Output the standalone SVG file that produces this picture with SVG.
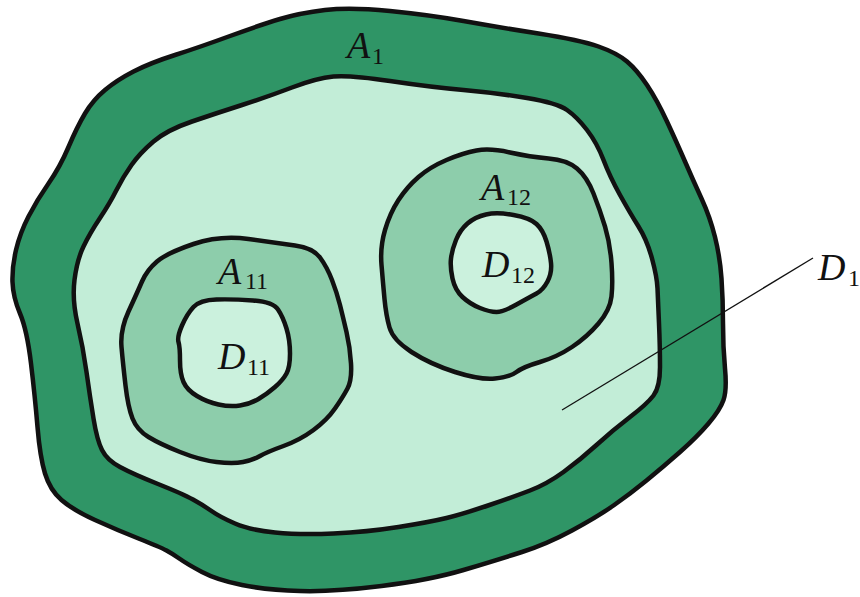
<svg xmlns="http://www.w3.org/2000/svg" width="860" height="597" viewBox="0 0 860 597">
<style>
.b{stroke:#111;stroke-width:4.5;stroke-linejoin:round}
.outer{fill:#2f9566}
.mid{fill:#c2edd7}
.ann{fill:#8dcdab}
.inn{fill:#cbf1dd}
.lbl{font-family:'Liberation Serif','Times New Roman',serif;font-style:italic;font-size:38px;fill:#111}
.sub{font-family:'Liberation Serif','Times New Roman',serif;font-style:normal;font-size:24px;fill:#111}
</style>
<rect width="860" height="597" fill="#ffffff"/>
<g id="A1">
<path class="b outer" d="M 325,10 Q 350,7 390,11 Q 430,15 463.5,21 Q 497,27 538.5,33.5 Q 580,40 598.5,46.5 Q 617,53 627,61.5 Q 637,70 647,85 Q 657,100 667,121.5 Q 677,143 685,161.5 Q 693,180 701.5,198.5 Q 710,217 715,237 Q 720,257 721.5,278.5 Q 723,300 723,323.5 Q 723,347 725,368.5 Q 727,390 723.5,400 Q 720,410 708.5,423.5 Q 697,437 680,452 Q 663,467 646.5,480.5 Q 630,494 613.5,505.5 Q 597,517 572,530.5 Q 547,544 522,552 Q 497,560 463.5,570 Q 430,580 381.5,586 Q 333,592 300,591 Q 267,590 242,585 Q 217,580 202,572 Q 187,564 180,559 Q 173,554 166.5,550.5 Q 160,547 138.5,538.5 Q 117,530 95,520 Q 73,510 61.5,500 Q 50,490 45,473.5 Q 40,457 37.5,427 Q 35,397 31,363.5 Q 27,330 20,313.5 Q 13,297 12.5,282 Q 12,267 16,250 Q 20,233 28.5,216.5 Q 37,200 48.5,183.5 Q 60,167 68.5,147 Q 77,127 85,113.5 Q 93,100 105,90 Q 117,80 133.5,71.5 Q 150,63 175,55 Q 200,47 230,36 Q 260,25 280,19 Q 300,13 325,10 Z"/>
</g>
<g id="D1">
<path class="b mid" d="M 292,87.5 Q 317,78 333.5,76.5 Q 350,75 390,81 Q 430,87 463.5,90 Q 497,93 527,98 Q 557,103 567,110 Q 577,117 587,130 Q 597,143 603.5,160 Q 610,177 620,195 Q 630,213 638.5,226.5 Q 647,240 652,258.5 Q 657,277 657.5,288.5 Q 658,300 659,323.5 Q 660,347 660,367 Q 660,387 653.5,395.5 Q 647,404 630,417 Q 613,430 596.5,445 Q 580,460 563.5,472 Q 547,484 530,490.5 Q 513,497 488,505.5 Q 463,514 446.5,518 Q 430,522 398.5,527 Q 367,532 333.5,533.5 Q 300,535 275,532.5 Q 250,530 235,523.5 Q 220,517 211.5,511 Q 203,505 193,499.5 Q 183,494 158,484 Q 133,474 120,467 Q 107,460 102,450 Q 97,440 93.5,418.5 Q 90,397 86.5,372 Q 83,347 77.5,323.5 Q 72,300 74.5,280 Q 77,260 83.5,246.5 Q 90,233 100,218 Q 110,203 116.5,190 Q 123,177 131.5,165 Q 140,153 153.5,141.5 Q 167,130 192,121.5 Q 217,113 242,105 Q 267,97 292,87.5 Z"/>
</g>
<g id="A11">
<path class="b ann" d="M 193.5,244 Q 220,235 248.5,239 Q 277,243 295,245.5 Q 313,248 320,257.5 Q 327,267 332,280 Q 337,293 340,305 Q 343,317 346.5,332 Q 350,347 351,363.5 Q 352,380 347.5,388.5 Q 343,397 335,408.5 Q 327,420 313.5,430 Q 300,440 283.5,446 Q 267,452 260,456 Q 253,460 243,462 Q 233,464 216.5,462 Q 200,460 180,452 Q 160,444 148.5,437 Q 137,430 132.5,418.5 Q 128,407 125.5,385.5 Q 123,364 121.5,347 Q 120,330 128.5,311.5 Q 137,293 142,281.5 Q 147,270 157,261.5 Q 167,253 193.5,244 Z"/>
</g>
<g id="D11">
<path class="b inn" d="M 193.5,307 Q 200,300 216.5,299.5 Q 233,299 253,300.5 Q 273,302 278,309.5 Q 283,317 286.5,328.5 Q 290,340 290,353.5 Q 290,367 286.5,373.5 Q 283,380 275,387 Q 267,394 258.5,399 Q 250,404 240,405.5 Q 230,407 218.5,404.5 Q 207,402 197,396 Q 187,390 183.5,382 Q 180,374 180,360.5 Q 180,347 178.5,342 Q 177,337 182,325.5 Q 187,314 193.5,307 Z"/>
</g>
<g id="A12">
<path class="b ann" d="M 418.5,177 Q 430,167 446.5,160 Q 463,153 476.5,150.5 Q 490,148 510,152.5 Q 530,157 548.5,158.5 Q 567,160 577,168.5 Q 587,177 593.5,193.5 Q 600,210 605,226.5 Q 610,243 611.5,263 Q 613,283 611.5,296.5 Q 610,310 598.5,323.5 Q 587,337 572,347 Q 557,357 540,362 Q 523,367 516.5,372 Q 510,377 495,378.5 Q 480,380 455,372 Q 430,364 411.5,352 Q 393,340 389.5,327.5 Q 386,315 384.5,299 Q 383,283 381.5,265 Q 380,247 385,230 Q 390,213 398.5,200 Q 407,187 418.5,177 Z"/>
</g>
<g id="D12">
<path class="b inn" d="M 486,214.5 Q 497,212 513.5,215 Q 530,218 536.5,224 Q 543,230 546.5,241.5 Q 550,253 551,263 Q 552,273 547.5,281.5 Q 543,290 536.5,293.5 Q 530,297 516.5,304.5 Q 503,312 496.5,312 Q 490,312 480,308 Q 470,304 462.5,297 Q 455,290 452.5,278.5 Q 450,267 451,258.5 Q 452,250 456,240 Q 460,230 467.5,223.5 Q 475,217 486,214.5 Z"/>
</g>
<g id="connectors">
<line x1="562" y1="410" x2="813" y2="258" stroke="#111" stroke-width="1.3"/>
</g>
<g id="labels">
<text class="lbl" x="347" y="58">A</text><text class="sub" x="372" y="64">1</text>
<text class="lbl" x="218" y="284">A</text><text class="sub" x="245" y="289">11</text>
<text class="lbl" x="218" y="369">D</text><text class="sub" x="247" y="375">11</text>
<text class="lbl" x="481" y="200">A</text><text class="sub" x="507" y="205">12</text>
<text class="lbl" x="482" y="277">D</text><text class="sub" x="511" y="283">12</text>
<text class="lbl" x="818" y="280">D</text><text class="sub" x="848" y="286">1</text>
</g>
</svg>
